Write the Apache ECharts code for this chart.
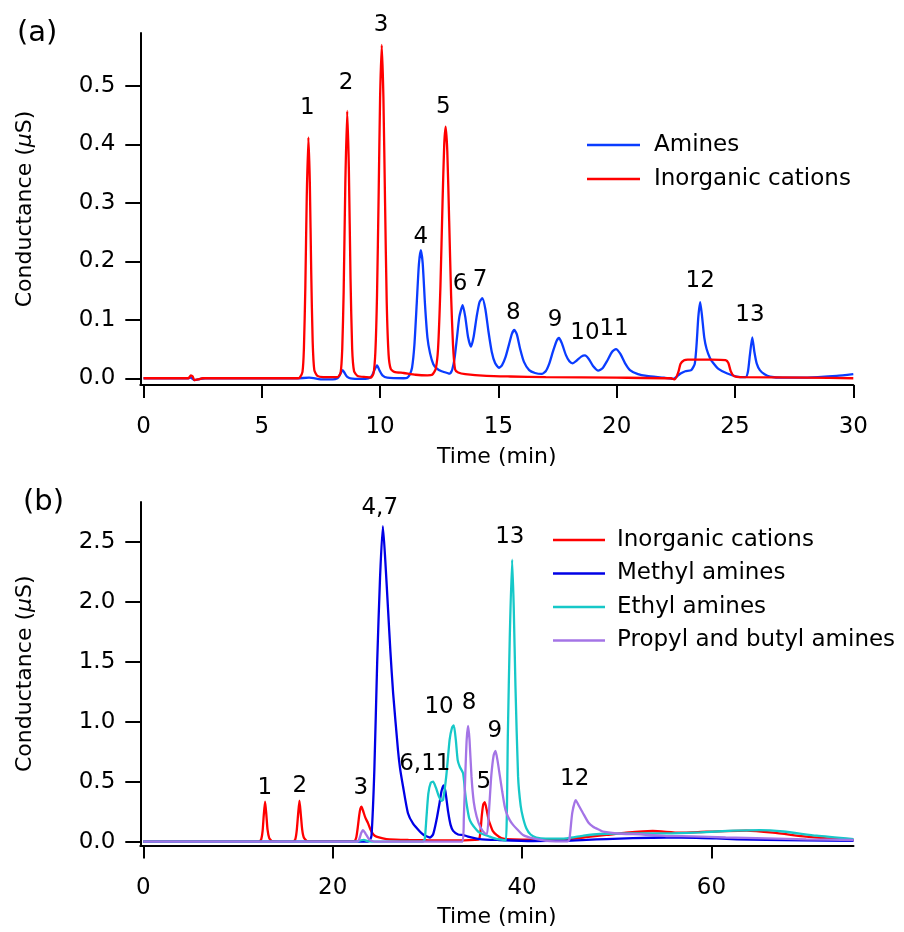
<!DOCTYPE html>
<html>
<head>
<meta charset="utf-8">
<script src="https://cdn.jsdelivr.net/npm/echarts@6/dist/echarts.min.js"></script>
<style>
html,body{margin:0;padding:0;background:#fff;}
#chart{width:904px;height:932px;}
</style>
</head>
<body>
<div id="chart"></div>
<script>
// ---------- Panel (a) data: [time (min), conductance (µS)] ----------
var amines_a = [
 [0,0],[1.9,0],[2.0,0.001],[2.15,-0.003],[2.4,-0.001],[2.6,0],[6.5,0],[7.0,0.001],[7.6,-0.002],[8.0,-0.002],[8.2,0],
 [8.28,0.004],[8.35,0.010],[8.42,0.014],[8.50,0.009],[8.60,0.003],[8.75,0],[9.2,-0.001],[9.5,0],
 [9.65,0.004],[9.75,0.013],[9.87,0.022],[9.98,0.013],[10.1,0.005],[10.3,0.001],[11.0,0],
 [11.15,0.001],[11.25,0.006],[11.35,0.018],[11.45,0.057],[11.55,0.129],[11.64,0.195],[11.72,0.219],[11.80,0.197],
 [11.90,0.125],[12.0,0.07],[12.11,0.043],[12.25,0.024],[12.39,0.017],[12.6,0.012],[12.88,0.0085],[12.95,0.008],
 [13.05,0.015],[13.15,0.035],[13.25,0.07],[13.35,0.105],[13.49,0.125],[13.60,0.105],[13.72,0.07],[13.84,0.054],
 [13.95,0.07],[14.08,0.105],[14.2,0.13],[14.32,0.137],[14.45,0.118],[14.58,0.08],[14.72,0.045],[14.86,0.026],[15.02,0.018],
 [15.15,0.022],[15.3,0.036],[15.45,0.058],[15.57,0.076],[15.67,0.0826],[15.78,0.075],[15.92,0.05],[16.08,0.028],[16.3,0.014],[16.55,0.009],[16.83,0.0074],
 [17.0,0.012],[17.15,0.025],[17.3,0.045],[17.45,0.063],[17.56,0.069],[17.68,0.06],[17.85,0.04],[18.0,0.029],[18.14,0.0256],
 [18.3,0.03],[18.5,0.037],[18.66,0.039],[18.82,0.033],[19.0,0.021],[19.22,0.013],
 [19.4,0.017],[19.6,0.03],[19.8,0.045],[19.97,0.050],[20.15,0.042],[20.35,0.026],[20.56,0.014],[20.9,0.007],[21.27,0.004],[22.0,0.001],
 [22.39,-0.001],[22.55,0.003],[22.7,0.008],[22.9,0.012],[23.15,0.014],
 [23.3,0.025],[23.38,0.06],[23.45,0.105],[23.53,0.130],[23.61,0.105],[23.70,0.07],[23.80,0.05],[23.95,0.034],[24.08,0.026],[24.3,0.016],[24.65,0.0085],[25.07,0.003],[25.45,0.002],
 [25.55,0.012],[25.63,0.04],[25.73,0.070],[25.82,0.045],[25.92,0.025],[26.05,0.014],[26.25,0.007],[26.48,0.003],[27.0,0.001],[27.75,0.001],[28.5,0.002],[29.3,0.004],[30,0.007]
];
var inorganic_a = [
 [0,0],[1.9,0],[2.0,0.005],[2.08,0.003],[2.15,-0.003],[2.3,-0.002],[2.5,0],[6.5,0],
 [6.60,0.001],[6.72,0.011],[6.78,0.051],[6.84,0.155],[6.90,0.31],[6.97,0.412],[7.03,0.335],[7.09,0.179],[7.15,0.063],[7.22,0.014],[7.35,0.004],[7.6,0.002],
 [8.20,0.002],[8.33,0.009],[8.40,0.05],[8.46,0.148],[8.53,0.332],[8.61,0.457],[8.68,0.358],[8.75,0.171],[8.82,0.05],[8.90,0.012],[9.05,0.004],[9.4,0.002],
 [9.60,0.001],[9.72,0.008],[9.80,0.045],[9.87,0.142],[9.94,0.317],[10.00,0.48],[10.07,0.570],[10.14,0.48],[10.21,0.30],[10.28,0.13],[10.36,0.04],[10.45,0.016],
 [10.6,0.011],[11.0,0.009],[11.5,0.006],[12.0,0.005],[12.20,0.006],
 [12.35,0.016],[12.45,0.051],[12.55,0.157],[12.64,0.302],[12.71,0.399],[12.77,0.430],[12.84,0.388],[12.92,0.269],[13.00,0.143],[13.08,0.058],[13.17,0.015],
 [13.30,0.010],[13.6,0.007],[14.5,0.004],[15.5,0.003],[17,0.002],[20,0.001],[22.3,0],[22.45,-0.002],[22.6,0.01],[22.7,0.025],[22.85,0.031],
 [23.0,0.032],[24.0,0.032],[24.6,0.031],[24.72,0.026],[24.82,0.012],[24.95,0.004],[25.3,0.002],[28,0.001],[30,0]
];
// ---------- Panel (b) data ----------
var inorganic_b = [
 [0,0],[12.2,0],[12.45,0.02],[12.6,0.09],[12.72,0.22],[12.86,0.333],[13.0,0.22],[13.12,0.1],[13.3,0.03],[13.6,0.005],
 [15.8,0],[16.05,0.02],[16.2,0.09],[16.35,0.23],[16.49,0.342],[16.63,0.23],[16.78,0.1],[16.95,0.035],[17.3,0.006],
 [22.3,0.005],[22.5,0.04],[22.65,0.12],[22.8,0.22],[22.92,0.275],[23.04,0.292],[23.2,0.26],[23.45,0.2],[23.74,0.153],[24.0,0.1],[24.3,0.06],[24.62,0.042],
 [25.3,0.028],[26.0,0.02],[28,0.015],[30,0.012],[33,0.01],[35.0,0.015],
 [35.45,0.02],[35.6,0.08],[35.75,0.22],[35.9,0.31],[36.06,0.330],[36.25,0.27],[36.45,0.19],[36.6,0.15],[36.9,0.09],[37.3,0.056],[37.8,0.03],[38.3,0.022],
 [40,0.018],[42,0.018],[45.04,0.0225],[47,0.04],[48.9,0.056],[51,0.075],[53.8,0.089],[56.65,0.075],[59.47,0.083],[63.7,0.092],[66.5,0.075],[70.0,0.042],[72.5,0.025],[75,0.014]
];
var methyl_b = [
 [0,0],[23.7,0],[23.9,0.01],[24.1,0.05],[24.4,0.6],[24.7,1.5],[25.0,2.2],[25.3,2.63],[25.55,2.35],[25.85,1.93],[26.1,1.58],[26.38,1.24],
 [26.9,0.76],[27.1,0.62],[27.43,0.46],[27.95,0.237],[28.49,0.15],[29.2,0.085],[29.55,0.06],[29.9,0.045],[30.25,0.035],
 [30.6,0.06],[30.96,0.18],[31.3,0.33],[31.49,0.42],[31.7,0.47],[31.9,0.42],[32.19,0.25],[32.45,0.14],[32.72,0.09],[33.24,0.06],[33.8,0.055],[34.2,0.045],
 [35.5,0.022],[37.6,0.014],[41.1,0.006],[44.6,0.008],[46.8,0.015],[48.9,0.022],[51.7,0.03],[55.2,0.035],[58.4,0.033],[60.5,0.027],[62.7,0.02],[65.8,0.015],[69.7,0.012],[75,0.008]
];
var ethyl_b = [
 [0,0],[22.6,0],[23.0,0.012],[23.3,0.015],[23.7,0.005],[24.5,0],[29.5,0],
 [29.72,0.02],[29.9,0.2],[30.1,0.4],[30.35,0.49],[30.6,0.5],[30.9,0.45],[31.2,0.38],[31.5,0.34],[31.66,0.35],
 [32.0,0.55],[32.35,0.85],[32.6,0.95],[32.79,0.97],[33.0,0.85],[33.2,0.68],[33.42,0.625],[33.77,0.57],[34.0,0.4],[34.13,0.32],[34.4,0.2],[34.66,0.153],
 [35.2,0.098],[35.53,0.075],[36.6,0.042],[37.2,0.025],[38.0,0.014],[38.3,0.01],
 [38.5,0.9],[38.7,1.7],[38.95,2.35],[39.12,1.95],[39.3,1.3],[39.58,0.54],[39.85,0.3],[40.1,0.2],[40.46,0.11],[40.9,0.06],[41.5,0.035],[42.5,0.025],
 [44.7,0.028],[46.5,0.05],[48.2,0.064],[51.7,0.07],[55.2,0.07],[58.8,0.078],[62.3,0.092],[65.1,0.097],[67.6,0.085],[71.1,0.05],[75,0.022]
];
var propyl_b = [
 [0,0],[22.6,0],[22.8,0.02],[23.0,0.07],[23.2,0.097],[23.45,0.07],[23.8,0.025],[24.1,0.008],[24.5,0],[33.7,0],
 [33.85,0.2],[34.0,0.55],[34.15,0.85],[34.3,0.964],[34.45,0.85],[34.66,0.54],[34.9,0.33],[35.2,0.21],[35.6,0.12],[36.06,0.07],
 [36.3,0.065],[36.5,0.25],[36.75,0.55],[37.0,0.72],[37.19,0.756],[37.4,0.68],[37.65,0.55],[37.9,0.42],[38.15,0.3],[38.35,0.24],[38.7,0.18],[39.05,0.14],[39.4,0.11],
 [40.1,0.056],[41.16,0.028],[42.9,0.005],[44.8,0.003],
 [45.0,0.02],[45.3,0.24],[45.67,0.347],[46.0,0.3],[46.44,0.237],[47.0,0.16],[47.5,0.125],[48.2,0.097],[48.55,0.083],[51.0,0.064],[51.7,0.064],
 [55.25,0.047],[58,0.045],[61.5,0.035],[65.8,0.028],[70,0.02],[75,0.014]
];
// Peak number labels: [label, time, conductance]
var peakLabels_a = [
 ['1',6.92,0.4615],['2',8.56,0.505],['3',10.04,0.604],['4',11.72,0.242],['5',12.67,0.463],['6',13.38,0.161],['7',14.22,0.168],
 ['8',15.63,0.111],['9',17.39,0.0997],['10',18.66,0.078],['11',19.89,0.0838],['12',23.53,0.166],['13',25.63,0.108]
];
var peakLabels_b = [
 ['1',12.83,0.45],['2',16.53,0.464],['3',22.97,0.45],['4,7',24.97,2.78],['6,11',29.73,0.648],['10',31.24,1.125],['8',34.4,1.158],
 ['9',37.12,0.925],['5',35.96,0.5],['13',38.7,2.54],['12',45.56,0.522]
];
// Axis ticks
var xTicks_a = [0,5,10,15,20,25,30];
var yTicks_a = [0,0.1,0.2,0.3,0.4,0.5];
var xTicks_b = [0,20,40,60];
var yTicks_b = [0,0.5,1.0,1.5,2.0,2.5];

var FONT = 'DejaVu Sans';
var chart = echarts.init(document.getElementById('chart'), null, {renderer:'canvas'});

function xAxisCfg(gi, min, max, ticks){
  return {
    type:'value', gridIndex:gi, min:min, max:max,
    name:'Time (min)', nameLocation:'middle', nameGap:61,
    nameTextStyle:{fontFamily:FONT, fontSize:22, color:'#000'},
    axisLine:{onZero:false, lineStyle:{color:'#000', width:2}},
    axisTick:{show:true, length:13, lineStyle:{color:'#000', width:2}, customValues:ticks},
    axisLabel:{show:true, margin:31, fontFamily:FONT, fontSize:23, color:'#000', customValues:ticks,
      formatter:function(v){return String(Math.round(v));}},
    splitLine:{show:false}
  };
}
function yAxisCfg(gi, min, max, ticks, nameGap){
  return {
    type:'value', gridIndex:gi, min:min, max:max,
    name:'Conductance ({i|μ}S)', nameLocation:'middle', nameGap:nameGap,
    nameTextStyle:{fontFamily:FONT, fontSize:22, color:'#000', rich:{i:{fontFamily:FONT, fontSize:22, fontStyle:'italic', color:'#000'}}},
    axisLine:{onZero:false, lineStyle:{color:'#000', width:2}},
    axisTick:{show:true, length:15, lineStyle:{color:'#000', width:2}, customValues:ticks},
    axisLabel:{show:true, margin:25, fontFamily:FONT, fontSize:23, color:'#000', customValues:ticks,
      formatter:function(v){return v.toFixed(1);}},
    splitLine:{show:false}
  };
}
function lineSeries(name, data, color, xi){
  return {type:'line', name:name, data:data, xAxisIndex:xi, yAxisIndex:xi, symbol:'none', showSymbol:false,
    smooth:0.2, lineStyle:{color:color, width:2.3}, itemStyle:{color:color}, z:2, animation:false};
}
function labelSeries(list, xi){
  return {type:'scatter', name:'labels'+xi, xAxisIndex:xi, yAxisIndex:xi, clip:false, symbolSize:0,
    itemStyle:{color:'#000', opacity:1}, silent:true, animation:false, z:5,
    data:list.map(function(d){return {name:d[0], value:[d[1], d[2]]};}),
    label:{show:true, position:'inside', formatter:'{b}', fontFamily:FONT, fontSize:23, color:'#000', opacity:1, textBorderWidth:0}};
}

var option = {
  backgroundColor:'#fff',
  animation:false,
  textStyle:{fontFamily:FONT},
  title:[
    {text:'(a)', left:12, top:14, textStyle:{fontFamily:FONT, fontSize:29, fontWeight:'normal', color:'#000'}},
    {text:'(b)', left:18, top:483, textStyle:{fontFamily:FONT, fontSize:29, fontWeight:'normal', color:'#000'}}
  ],
  grid:[
    {left:140.3, top:33, width:713, height:352},
    {left:140.3, top:502, width:713.2, height:343.5}
  ],
  xAxis:[ xAxisCfg(0, -0.135, 30, xTicks_a), xAxisCfg(1, -0.317, 75, xTicks_b) ],
  yAxis:[ yAxisCfg(0, -0.0115, 0.5903, yTicks_a, 104), yAxisCfg(1, -0.0317, 2.831, yTicks_b, 104) ],
  legend:[
    {orient:'vertical', left:587, top:133, icon:'rect', itemWidth:53, itemHeight:2.3, itemGap:10, padding:0,
     data:['Amines','Inorganic cations'],
     textStyle:{fontFamily:FONT, fontSize:23, color:'#000', lineHeight:24, padding:[0,0,0,9]}},
    {orient:'vertical', left:553, top:528, icon:'rect', itemWidth:52, itemHeight:2.3, itemGap:9.5, padding:0,
     data:['Inorganic cations','Methyl amines','Ethyl amines','Propyl and butyl amines'],
     textStyle:{fontFamily:FONT, fontSize:23, color:'#000', lineHeight:24, padding:[0,0,0,7]}}
  ],
  series:[
    lineSeries('Amines', amines_a, '#0a3cff', 0),
    lineSeries('Inorganic cations', inorganic_a, '#ff0000', 0),
    labelSeries(peakLabels_a, 0),
    lineSeries('Inorganic cations', inorganic_b, '#ff0000', 1),
    lineSeries('Methyl amines', methyl_b, '#0000e6', 1),
    lineSeries('Ethyl amines', ethyl_b, '#16c8c8', 1),
    lineSeries('Propyl and butyl amines', propyl_b, '#a474e6', 1),
    labelSeries(peakLabels_b, 1)
  ]
};
chart.setOption(option);
</script>
</body>
</html>
